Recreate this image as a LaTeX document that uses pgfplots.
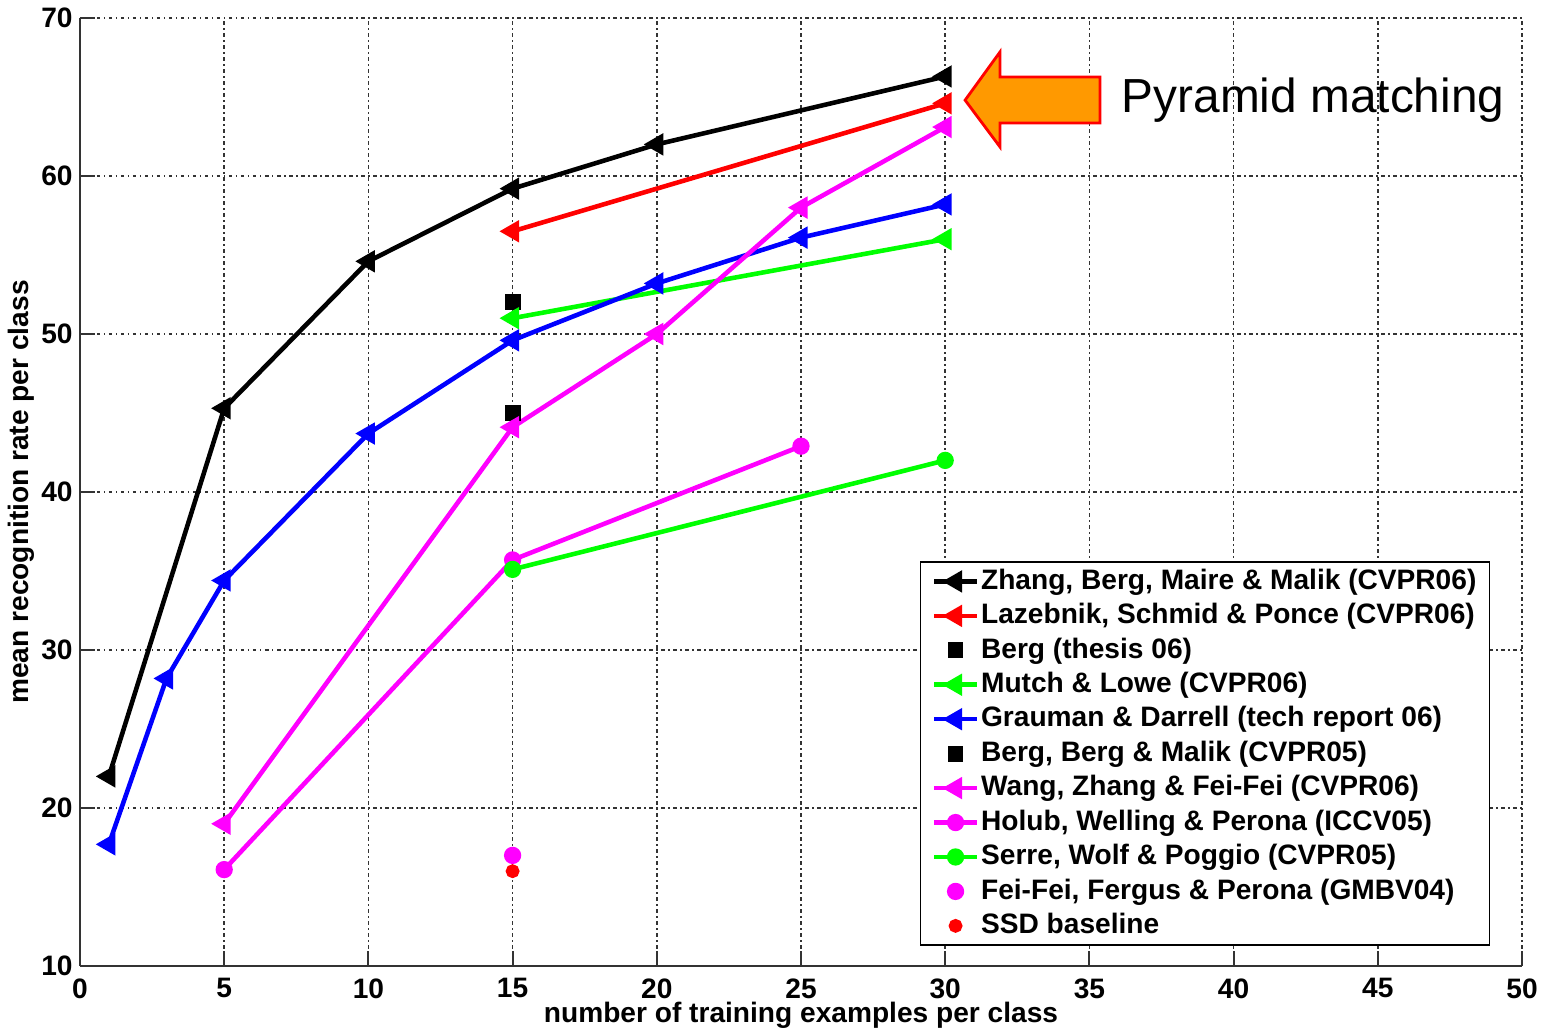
\documentclass[border=0pt]{standalone}
\usepackage{fontspec}
\setmainfont{Liberation Sans}
\usepackage{pgfplots}
\pgfplotsset{compat=1.18}
\usetikzlibrary{calc}
\definecolor{myorange}{RGB}{255,153,0}
\definecolor{mgreen}{RGB}{0,255,0}
\definecolor{mmag}{RGB}{255,0,255}
\begin{document}
\begin{tikzpicture}
\begin{axis}[
  name=ax,
  scale only axis, width=144.2mm, height=94.8mm,
  xmin=0, xmax=50, ymin=10, ymax=70,
  xtick={0,5,...,50}, ytick={10,20,...,70},
  axis x line=bottom, axis y line=left,
  axis line style={-, line width=0.6pt, black!80},
  tick align=inside, major tick length=1.5mm,
  tick style={black!80, line width=0.6pt},
  grid=major,
  grid style={black!80, line width=0.45pt, dash pattern=on 0.15mm off 0.35mm on 0.35mm off 0.35mm},
  /pgf/number format/assume math mode=true,
  ticklabel style={font=\fontsize{8}{9}\selectfont\bfseries},
  yticklabel style={xshift=0.5mm},
  label style={font=\fontsize{8}{9}\selectfont\bfseries},
  xlabel={number of training examples per class},
  ylabel={mean recognition rate per class},
  xlabel style={at={(axis description cs:0.5,-0.052)}, anchor=center},
  ylabel style={at={(axis description cs:-0.041,0.5)}, anchor=center},
  legend style={at={(0.978,0.021)}, anchor=south east, draw=black, line width=0.5pt,
    font=\fontsize{8}{9}\selectfont\bfseries, row sep=0.8pt, inner xsep=3.2pt, inner ysep=1pt,
    nodes={inner sep=0.5pt, text height=6.2pt, text depth=1.8pt}},
  legend cell align=left,
  legend image code/.code={\draw[mark repeat=2,mark phase=2,#1] plot coordinates {(0cm,0cm) (0.215cm,0cm) (0.43cm,0cm)};},
  legend image post style={line width=1.3pt},
  every axis plot/.append style={line width=1.3pt},
]
% Zhang
\addplot[black, mark=triangle*, mark size=2.4pt, mark options={rotate=90}] coordinates {(1,22) (5,45.3) (10,54.6) (15,59.2) (20,62) (30,66.3)};
\addlegendentry{Zhang, Berg, Maire \& Malik (CVPR06)}
% Lazebnik
\addplot[red, mark=triangle*, mark size=2.4pt, mark options={rotate=90}] coordinates {(15,56.5) (30,64.6)};
\addlegendentry{Lazebnik, Schmid \& Ponce (CVPR06)}
% Berg thesis
\addplot[black, only marks, mark=square*, mark size=1.6pt] coordinates {(15,52)};
\addlegendentry{Berg (thesis 06)}
% Mutch & Lowe
\addplot[mgreen, mark=triangle*, mark size=2.4pt, mark options={rotate=90}] coordinates {(15,51) (30,56)};
\addlegendentry{Mutch \& Lowe (CVPR06)}
% Grauman
\addplot[blue, mark=triangle*, mark size=2.4pt, mark options={rotate=90}] coordinates {(1,17.7) (3,28.2) (5,34.4) (10,43.7) (15,49.6) (20,53.2) (25,56.1) (30,58.2)};
\addlegendentry{Grauman \& Darrell (tech report 06)}
% Berg Berg Malik
\addplot[black, only marks, mark=square*, mark size=1.6pt] coordinates {(15,45)};
\addlegendentry{Berg, Berg \& Malik (CVPR05)}
% Wang
\addplot[mmag, mark=triangle*, mark size=2.4pt, mark options={rotate=90}] coordinates {(5,19) (15,44.1) (20,50) (25,58) (30,63.1)};
\addlegendentry{Wang, Zhang \& Fei-Fei (CVPR06)}
% Holub
\addplot[mmag, mark=*, mark size=1.8pt] coordinates {(5,16.1) (15,35.7) (25,42.9)};
\addlegendentry{Holub, Welling \& Perona (ICCV05)}
% Serre
\addplot[mgreen, mark=*, mark size=1.8pt] coordinates {(15,35.1) (30,42)};
\addlegendentry{Serre, Wolf \& Poggio (CVPR05)}
% Fei-Fei
\addplot[mmag, only marks, mark=*, mark size=1.8pt] coordinates {(15,17)};
\addlegendentry{Fei-Fei, Fergus \& Perona (GMBV04)}
% SSD
\addplot[red, only marks, mark=*, mark size=1.3pt] coordinates {(15,16)};
\addlegendentry{SSD baseline}
% arrow annotation
\draw[red, line width=0.8pt, fill=myorange] (axis cs:30.69,64.8) -- (axis cs:31.9,67.85) -- (axis cs:31.9,66.27) -- (axis cs:35.37,66.27) -- (axis cs:35.37,63.35) -- (axis cs:31.9,63.35) -- (axis cs:31.9,61.84) -- cycle;
\node[anchor=west, inner sep=0pt, font=\fontsize{13.6}{15}\selectfont] at (axis cs:36.1,64.8) {Pyramid matching};
\end{axis}
\pgfresetboundingbox
\path ($(ax.south west)+(-8mm,-6.6mm)$) rectangle ($(ax.north east)+(2.5mm,1.8mm)$);
\end{tikzpicture}
\end{document}
